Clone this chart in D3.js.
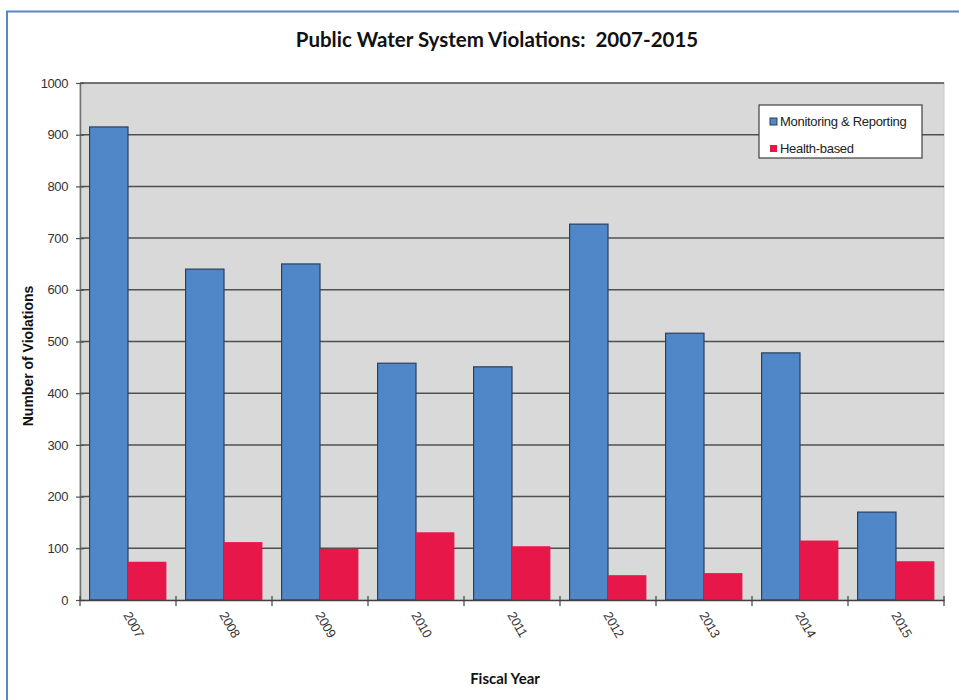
<!DOCTYPE html>
<html>
<head>
<meta charset="utf-8">
<script src="https://cdn.jsdelivr.net/npm/d3@7"></script>
<style>
  html, body { margin: 0; padding: 0; background: #fff; }
  svg { display: block; }
</style>
</head>
<body>
<svg id="chart" width="959" height="700"></svg>
<script>
// Fiscal years and violation counts
const years = ["2007", "2008", "2009", "2010", "2011", "2012", "2013", "2014", "2015"];
const monitoringReporting = [915, 640, 650, 458, 451, 727, 516, 478, 170];
const healthBased = [74, 112, 99, 131, 104, 48, 52, 115, 75];
const seriesNames = ["Monitoring & Reporting", "Health-based"];
const yTicks = [0, 100, 200, 300, 400, 500, 600, 700, 800, 900, 1000];

const colors = ["#4f87c8", "#e8174a"];
const strokes = ["#2d3f5c", "none"];

const svg = d3.select("#chart");

// outer frame (top and left edges visible)
svg.append("path")
  .attr("d", "M7,700 L7,11.5 L959,11.5")
  .attr("fill", "none")
  .attr("stroke", "#5a86c4")
  .attr("stroke-width", 2);

const plot = { left: 80, right: 944, top: 83, bottom: 600 };

const x = d3.scaleBand().domain(years).range([plot.left, plot.right]).paddingInner(0).paddingOuter(0);
const y = d3.scaleLinear().domain([0, 1000]).range([plot.bottom, plot.top]);
const inner = d3.scaleBand().domain([0, 1]).range([0, x.bandwidth()]).paddingInner(0).paddingOuter(0.25);

// plot background
svg.append("rect")
  .attr("x", plot.left).attr("y", plot.top)
  .attr("width", plot.right - plot.left).attr("height", plot.bottom - plot.top)
  .attr("fill", "#d9d9d9")
  .attr("stroke", "#c4c4c4");

// gridlines
svg.append("g")
  .selectAll("line")
  .data(yTicks.filter(d => d > 0))
  .join("line")
  .attr("x1", plot.left).attr("x2", plot.right)
  .attr("y1", d => y(d)).attr("y2", d => y(d))
  .attr("stroke", "#505050")
  .attr("stroke-width", 1.5);

// bars
const groups = svg.append("g")
  .selectAll("g")
  .data(years)
  .join("g")
  .attr("transform", d => `translate(${x(d)},0)`);

[monitoringReporting, healthBased].forEach((vals, s) => {
  groups.append("rect")
    .attr("x", inner(s))
    .attr("width", inner.bandwidth())
    .attr("y", (d, i) => y(vals[i]))
    .attr("height", (d, i) => y(0) - y(vals[i]))
    .attr("fill", colors[s])
    .attr("stroke", strokes[s])
    .attr("stroke-width", 1.2);
});

// y axis
const yAxis = svg.append("g")
  .attr("transform", `translate(${plot.left},0)`)
  .call(d3.axisLeft(y).tickValues(yTicks).tickFormat(d3.format("d")).tickSize(8).tickPadding(4).tickSizeOuter(0));
yAxis.select(".domain").attr("stroke", "#707070").attr("stroke-width", 1.5);
yAxis.selectAll(".tick line").attr("stroke", "#505050").attr("stroke-width", 1.2).attr("x2", 0).attr("x1", -8);
yAxis.selectAll(".tick line").attr("transform", "translate(4,0)");
yAxis.selectAll("text")
  .attr("font-family", "'Liberation Sans', Arial, sans-serif")
  .attr("font-size", 13)
  .attr("letter-spacing", "-0.4")
  .attr("fill", "#333");

// x axis
const xAxis = svg.append("g")
  .attr("transform", `translate(0,${plot.bottom})`)
  .call(d3.axisBottom(x).tickSize(0).tickSizeOuter(0));
xAxis.select(".domain").attr("stroke", "#404040").attr("stroke-width", 1.5);
xAxis.selectAll("text")
  .attr("font-family", "'Liberation Sans', Arial, sans-serif")
  .attr("font-size", 13)
  .attr("letter-spacing", "-0.4")
  .attr("fill", "#333")
  .attr("text-anchor", "start")
  .attr("dy", "0")
  .attr("y", 0)
  .attr("transform", "translate(-5,15) rotate(60)");
// category boundary ticks
svg.append("g")
  .selectAll("line")
  .data(years.map(d => x(d) + x.bandwidth()).concat([plot.left]))
  .join("line")
  .attr("x1", d => d).attr("x2", d => d)
  .attr("y1", plot.bottom - 4).attr("y2", plot.bottom + 6)
  .attr("stroke", "#404040")
  .attr("stroke-width", 1.2);

// title
svg.append("text")
  .attr("x", 497).attr("y", 47)
  .attr("text-anchor", "middle")
  .attr("font-family", "Lato, 'Open Sans', sans-serif")
  .attr("font-weight", "bold")
  .attr("font-size", 20.5)
  .attr("fill", "#111")
  .attr("xml:space", "preserve")
  .text("Public Water System Violations:  2007-2015");

// axis titles
svg.append("text")
  .attr("transform", "translate(33,356) rotate(-90)")
  .attr("text-anchor", "middle")
  .attr("font-family", "'Liberation Sans', Arial, sans-serif")
  .attr("font-weight", "bold")
  .attr("font-size", 14)
  .attr("fill", "#111")
  .text("Number of Violations");

svg.append("text")
  .attr("x", 505).attr("y", 684)
  .attr("text-anchor", "middle")
  .attr("font-family", "Lato, 'Open Sans', sans-serif")
  .attr("font-weight", "bold")
  .attr("font-size", 15)
  .attr("fill", "#111")
  .text("Fiscal Year");

// legend
const legend = svg.append("g").attr("transform", "translate(759,105)");
legend.append("rect")
  .attr("width", 163).attr("height", 53)
  .attr("fill", "#fff")
  .attr("stroke", "#404040")
  .attr("stroke-width", 1.2);
seriesNames.forEach((name, i) => {
  const row = legend.append("g").attr("transform", `translate(11,${13 + i * 27})`);
  row.append("rect")
    .attr("width", 7).attr("height", 7)
    .attr("fill", colors[i])
    .attr("stroke", i === 0 ? "#2d3f5c" : "none");
  row.append("text")
    .attr("x", 10).attr("y", 7.5)
    .attr("font-family", "'Liberation Sans', Arial, sans-serif")
    .attr("font-size", 13)
    .attr("letter-spacing", "-0.3")
    .attr("fill", "#222")
    .text(name);
});
</script>
</body>
</html>
